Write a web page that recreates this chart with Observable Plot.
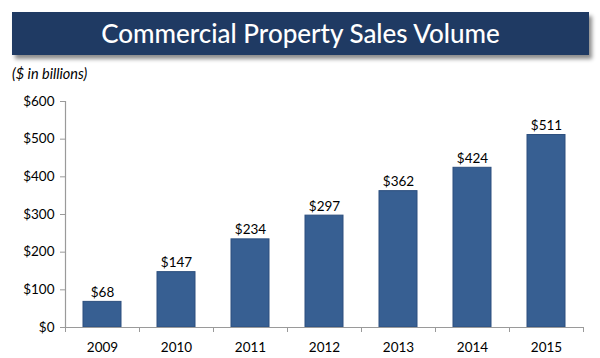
<!DOCTYPE html>
<html>
<head>
<meta charset="utf-8">
<script src="https://cdn.jsdelivr.net/npm/d3@7"></script>
<script src="https://cdn.jsdelivr.net/npm/@observablehq/plot@0.6"></script>
<style>
  html, body { margin: 0; padding: 0; background: #fff; width: 600px; height: 358px; overflow: hidden; font-family: Lato, "Open Sans", sans-serif; }
  #banner { position: absolute; left: 12px; top: 12px; width: 577px; height: 43px; background: #1f3a63;
    box-shadow: 3px 4px 4px rgba(0,0,0,0.45); color: #fff; font-size: 26px; line-height: 43px; text-align: center; font-weight: 500; }
  #sub { position: absolute; left: 12px; top: 65px; font-size: 14.5px; font-style: italic; color: #000; }
  #chart { position: absolute; left: 0; top: 88px; }
</style>
</head>
<body>
<div id="banner">Commercial Property Sales Volume</div>
<div id="sub">($ in billions)</div>
<div id="chart"></div>
<script>
const years = ["2009", "2010", "2011", "2012", "2013", "2014", "2015"];
const volumes = [68, 147, 234, 297, 362, 424, 511];
const yTicks = [0, 100, 200, 300, 400, 500, 600];

const data = years.map((y, i) => ({year: y, value: volumes[i]}));
const fmt = d => "$" + d;

const plot = Plot.plot({
  width: 600,
  height: 270,
  marginLeft: 65,
  marginRight: 17,
  marginTop: 13,
  marginBottom: 31,
  style: {fontFamily: "Lato, 'Open Sans', sans-serif", color: "#000", background: "transparent"},
  x: {domain: years, paddingInner: 0.486, paddingOuter: 0.243, label: null},
  y: {domain: [0, 600], label: null},
  marks: [
    Plot.barY(data, {x: "year", y: "value", fill: "#375f92", stroke: "#2c4f7e", strokeWidth: 1}),
    Plot.text(data, {x: "year", y: "value", text: d => fmt(d.value), dy: -5, lineAnchor: "bottom", fontSize: 13.5, fill: "#000"}),
    Plot.ruleY([0], {stroke: "#9a9a9a", strokeWidth: 1.2}),
    Plot.ruleX([years[0]], {dx: -37, y1: 0, y2: 600, stroke: "#9a9a9a", strokeWidth: 1.2}),
    Plot.axisY({ticks: yTicks, tickFormat: fmt, tickSize: 5, tickPadding: 6, stroke: "#9a9a9a", fontSize: 13.5, fill: "#000"}),
    Plot.axisX({tickSize: 5, tickFormat: () => "", dx: 37, stroke: "#9a9a9a", label: null}),
    Plot.axisX({ticks: [years[0]], tickSize: 5, tickFormat: () => "", dx: -37, stroke: "#9a9a9a", label: null}),
    Plot.axisX({tickSize: 0, tickPadding: 15, fontSize: 13.5, fill: "#000", label: null})
  ]
});
document.getElementById("chart").appendChild(plot);
</script>
</body>
</html>
